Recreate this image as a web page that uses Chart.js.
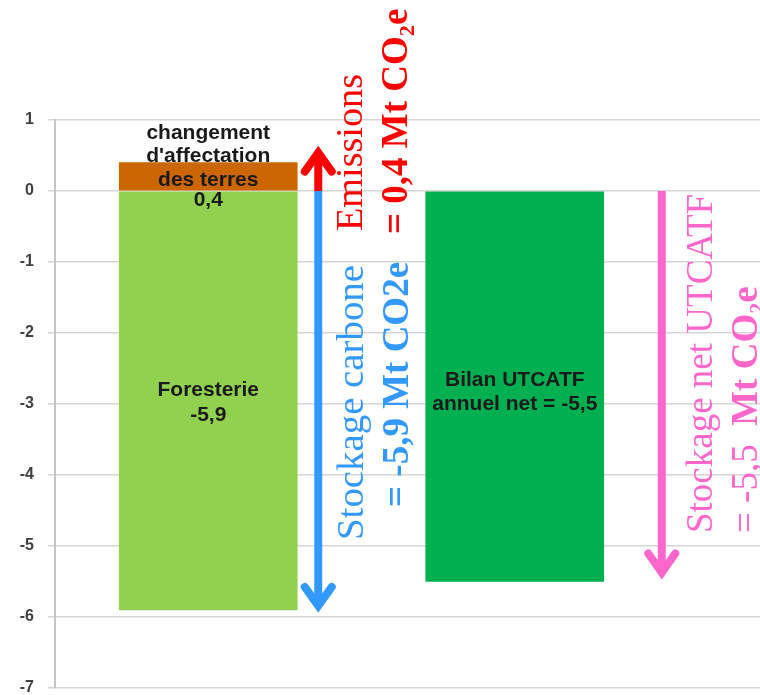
<!DOCTYPE html>
<html lang="fr">
<head>
<meta charset="utf-8">
<script src="https://cdn.jsdelivr.net/npm/chart.js@4/dist/chart.umd.min.js"></script>
<style>
  html, body { margin: 0; padding: 0; background: #fff; overflow: hidden; }
  canvas { display: block; }
</style>
</head>
<body>
<canvas id="c" width="760" height="695"></canvas>
<script>
// Bilan UTCATF annuel (Mt CO2e)
const categories = ['Foresterie', 'Bilan UTCATF'];
const forestry = [-5.9, null];          // stockage forestier
const landUseChange = [0.4, null];      // changement d'affectation des terres
const netBalance = [null, -5.5];        // bilan net
const yTicks = [1, 0, -1, -2, -3, -4, -5, -6, -7];

const SANS = '"Liberation Sans", Arial, sans-serif';
const SERIF = '"Liberation Serif", "DejaVu Serif", serif';

const toPoints = arr => categories
  .map((c, i) => ({ x: i + 0.5, y: arr[i] }))
  .filter(p => p.y !== null);

const fmt = v => String(v).replace('.', ',');

// text written inside / above the bars, anchored on a value of the y scale
const barLabels = [
  { cat: 0, at: landUseChange[0], dy: -29, text: 'changement' },
  { cat: 0, at: landUseChange[0], dy: -6,  text: "d'affectation" },
  { cat: 0, at: landUseChange[0], dy: 18,  text: 'des terres' },
  { cat: 0, at: 0, dy: 9, text: fmt(landUseChange[0]) },
  { cat: 0, at: -3, dy: -14, text: 'Foresterie' },
  { cat: 0, at: -3, dy: 11,  text: fmt(forestry[0]) },
  { cat: 1, at: -3, dy: -24, text: 'Bilan UTCATF' },
  { cat: 1, at: -3, dy: 0,   text: 'annuel net = ' + fmt(netBalance[1]) }
];

// vertical arrows: from 0 to the value, drawn beside the bars
const arrows = [
  { cat: 0, to: landUseChange[0], color: '#FF0000', side: 21, tipShift: -10 },
  { cat: 0, to: forestry[0],      color: '#3399FF', side: 21, tipShift: -4 },
  { cat: 1, to: netBalance[1],    color: '#FF66CC', side: 58, tipShift: -9 }
];

// rotated captions (read bottom to top); len = drawn length in px
const captions = [
  { x: 362, y: 231, len: 157, color: '#FF0000', parts: [['Emissions', false]] },
  { x: 407, y: 234, color: '#FF0000', parts: [['= 0,4 Mt CO\u2082e', true]] },
  { x: 363, y: 540, len: 275, color: '#3399FF', parts: [['Stockage carbone', false]] },
  { x: 408, y: 507, color: '#3399FF', parts: [['= -5,9 Mt CO2e', true]] },
  { x: 712, y: 533, color: '#FF66CC', parts: [['Stockage net UTCATF', false]] },
  { x: 757, y: 533, color: '#FF66CC', parts: [['= -5,5  ', false], ['Mt CO\u2082e', true]] }
];

const BAR_W = 178;
const captionFont = bold => (bold ? 'bold ' : '') + '37px ' + SERIF;

const annotate = {
  id: 'annotate',
  afterDatasetsDraw(chart) {
    const ctx = chart.ctx, ys = chart.scales.y, xs = chart.scales.x;
    ctx.save();
    ctx.fillStyle = '#1a1a1a';
    ctx.font = 'bold 21px ' + SANS;
    ctx.textAlign = 'center';
    ctx.textBaseline = 'middle';
    barLabels.forEach(l => {
      const x = xs.getPixelForValue(l.cat + 0.5);
      ctx.fillText(l.text, x, ys.getPixelForValue(l.at) + l.dy);
    });
    ctx.restore();
  },
  afterDraw(chart) {
    const ctx = chart.ctx, ys = chart.scales.y, xs = chart.scales.x;
    const y0 = ys.getPixelForValue(0);
    ctx.save();
    arrows.forEach(a => {
      const x = xs.getPixelForValue(a.cat + 0.5) + BAR_W / 2 + a.side;
      const dir = a.to > 0 ? -1 : 1;
      const tip = ys.getPixelForValue(a.to) + a.tipShift;
      ctx.strokeStyle = a.color;
      ctx.lineWidth = 8;
      ctx.lineCap = 'butt';
      ctx.beginPath();
      ctx.moveTo(x, y0);
      ctx.lineTo(x, tip);
      ctx.stroke();
      ctx.lineCap = 'round';
      ctx.lineJoin = 'miter';
      ctx.miterLimit = 10;
      ctx.beginPath();
      ctx.moveTo(x - 13.5, tip - dir * 19);
      ctx.lineTo(x, tip);
      ctx.lineTo(x + 13.5, tip - dir * 19);
      ctx.stroke();
    });
    captions.forEach(c => {
      ctx.save();
      ctx.translate(c.x, c.y);
      ctx.rotate(-Math.PI / 2);
      ctx.fillStyle = c.color;
      ctx.textAlign = 'left';
      ctx.textBaseline = 'alphabetic';
      let total = 0;
      c.parts.forEach(([t, bold]) => { ctx.font = captionFont(bold); total += ctx.measureText(t).width; });
      if (c.len) ctx.scale(c.len / total, 1);
      let off = 0;
      c.parts.forEach(([t, bold]) => {
        ctx.font = captionFont(bold);
        ctx.fillText(t, off, 0);
        off += ctx.measureText(t).width;
      });
      ctx.restore();
    });
    ctx.restore();
  }
};

new Chart(document.getElementById('c'), {
  type: 'bar',
  data: {
    datasets: [
      { label: 'Foresterie', data: toPoints(forestry), backgroundColor: '#92D050' },
      { label: "Changement d'affectation des terres", data: toPoints(landUseChange), backgroundColor: '#CC6600' },
      { label: 'Bilan UTCATF annuel net', data: toPoints(netBalance), backgroundColor: '#00B050' }
    ]
  },
  options: {
    responsive: false,
    animation: false,
    events: [],
    barThickness: BAR_W,
    layout: { padding: { top: 120, bottom: 7, left: 0, right: 0 } },
    plugins: { legend: { display: false }, tooltip: { enabled: false } },
    scales: {
      x: {
        type: 'linear', min: 0, max: 2.3, offset: false, stacked: true, display: false
      },
      y: {
        stacked: true,
        min: Math.min(...yTicks), max: Math.max(...yTicks),
        ticks: {
          stepSize: 1, padding: 14, color: '#404040',
          font: { family: SANS, size: 16, weight: 'bold' },
          callback: v => String(v)
        },
        grid: { color: '#d6d6d6', lineWidth: 1.5, tickLength: 7 },
        border: { color: '#c4c4c4', width: 2 },
        afterFit(s) { s.width = 55; s.paddingTop = 0; s.paddingBottom = 0; }
      }
    }
  },
  plugins: [annotate]
});
</script>
</body>
</html>
